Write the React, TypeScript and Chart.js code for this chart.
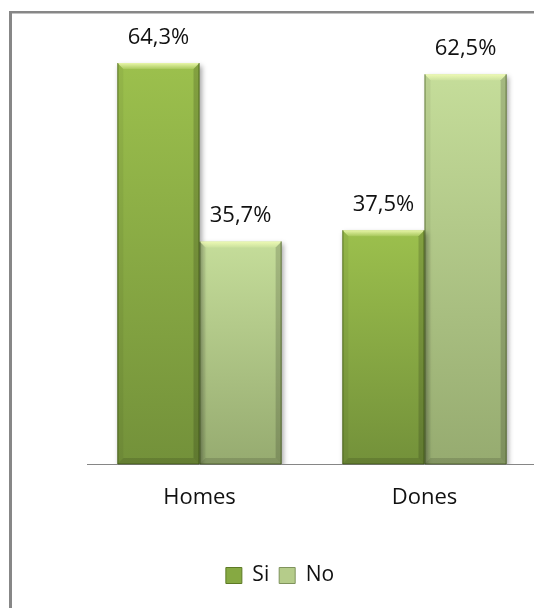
import React, { useEffect, useRef } from 'react';
import { Chart, registerables } from 'chart.js';

Chart.register(...registerables);

const categories = ['Homes', 'Dones'];
const seriesNames = ['Si', 'No'];
const siValues = [64.3, 37.5];
const noValues = [35.7, 62.5];
const yMin = 0;
const yMax = 70;

const W = 560;
const H = 608;
const FONT = "'Open Sans', 'DejaVu Sans', sans-serif";

const siTop = '#9cc04d';
const siBottom = '#73913a';
const noTop = '#c5dd9a';
const noBottom = '#96ab70';
const legendFill = ['#86a942', '#b5cc8a'];
const legendStroke = ['#5d7a25', '#7f935c'];

function fmt(v: number): string {
  return v.toFixed(1).replace('.', ',') + '%';
}

function vGrad(top: string, bottom: string) {
  return (ctx: any) => {
    const chart = ctx.chart;
    const ys = chart.scales && chart.scales.y;
    if (!chart.chartArea || !ys || typeof ctx.raw !== 'number') return top;
    const yTop = ys.getPixelForValue(ctx.raw);
    const yBase = ys.getPixelForValue(0);
    if (!isFinite(yTop) || !isFinite(yBase) || yTop === yBase) return top;
    const g = chart.ctx.createLinearGradient(0, yTop, 0, yBase);
    g.addColorStop(0, top);
    g.addColorStop(1, bottom);
    return g;
  };
}

const framePlugin = {
  id: 'frame',
  beforeDraw(chart: any) {
    const c = chart.ctx;
    c.save();
    c.fillStyle = '#ffffff';
    c.fillRect(0, 0, chart.width, chart.height);
    c.fillStyle = '#878787';
    c.fillRect(9, 11, chart.width, 2.5);
    c.fillRect(9, 11, 3, chart.height);
    c.restore();
  },
};

const shadowPlugin = {
  id: 'barShadowBevel',
  beforeDatasetsDraw(chart: any) {
    const c = chart.ctx;
    c.save();
    c.shadowColor = 'rgba(0,0,0,0.35)';
    c.shadowBlur = 5;
    c.shadowOffsetX = 2;
    c.shadowOffsetY = 3;
  },
  afterDatasetsDraw(chart: any) {
    const c = chart.ctx;
    c.restore();
    c.save();
    chart.data.datasets.forEach((ds: any, di: number) => {
      const meta = chart.getDatasetMeta(di);
      meta.data.forEach((el: any) => {
        const p = el.getProps(['x', 'y', 'base', 'width'], true);
        const l = p.x - p.width / 2;
        const r = p.x + p.width / 2;
        const t = Math.min(p.y, p.base);
        const b = Math.max(p.y, p.base);
        const bv = 6;
        const tg = c.createLinearGradient(0, t, 0, t + bv);
        tg.addColorStop(0, 'rgba(245,255,185,0.85)');
        tg.addColorStop(1, 'rgba(245,255,185,0.15)');
        c.fillStyle = tg;
        c.beginPath();
        c.moveTo(l, t);
        c.lineTo(r, t);
        c.lineTo(r - bv, t + bv);
        c.lineTo(l + bv, t + bv);
        c.closePath();
        c.fill();
        c.fillStyle = 'rgba(0,0,0,0.13)';
        c.beginPath();
        c.moveTo(l, b);
        c.lineTo(r, b);
        c.lineTo(r - bv, b - bv);
        c.lineTo(l + bv, b - bv);
        c.closePath();
        c.fill();
        c.fillStyle = 'rgba(0,0,0,0.05)';
        c.beginPath();
        c.moveTo(l, t);
        c.lineTo(l + bv, t + bv);
        c.lineTo(l + bv, b - bv);
        c.lineTo(l, b);
        c.closePath();
        c.fill();
        c.fillStyle = 'rgba(0,0,0,0.16)';
        c.beginPath();
        c.moveTo(r, t);
        c.lineTo(r - bv, t + bv);
        c.lineTo(r - bv, b - bv);
        c.lineTo(r, b);
        c.closePath();
        c.fill();
        c.strokeStyle = 'rgba(45,65,10,0.55)';
        c.lineWidth = 1;
        c.beginPath();
        c.moveTo(r - 0.5, t);
        c.lineTo(r - 0.5, b);
        c.lineTo(l + 0.5, b);
        c.lineTo(l + 0.5, t);
        c.stroke();
      });
    });
    c.fillStyle = '#111111';
    c.font = `22px ${FONT}`;
    c.textAlign = 'center';
    c.textBaseline = 'alphabetic';
    chart.data.datasets.forEach((ds: any, di: number) => {
      const meta = chart.getDatasetMeta(di);
      meta.data.forEach((el: any, i: number) => {
        const p = el.getProps(['x', 'y'], true);
        c.fillText(fmt(ds.data[i]), p.x, p.y - 19);
      });
    });
    c.restore();
  },
};

export default function App() {
  const ref = useRef<HTMLCanvasElement | null>(null);

  useEffect(() => {
    if (!ref.current) return;
    const chart = new Chart(ref.current, {
      type: 'bar',
      data: {
        labels: categories,
        datasets: [
          {
            label: seriesNames[0],
            data: siValues,
            backgroundColor: vGrad(siTop, siBottom),
            borderWidth: 0,
            categoryPercentage: 0.73,
            barPercentage: 1.0,
          },
          {
            label: seriesNames[1],
            data: noValues,
            backgroundColor: vGrad(noTop, noBottom),
            borderWidth: 0,
            categoryPercentage: 0.73,
            barPercentage: 1.0,
          },
        ],
      },
      options: {
        responsive: false,
        animation: false,
        devicePixelRatio: 1,
        layout: { padding: { top: 27.5, bottom: 12, left: 0, right: 0 } },
        plugins: {
          tooltip: { enabled: false },
          legend: {
            position: 'bottom',
            labels: {
              color: '#111111',
              font: { family: FONT, size: 21 },
              boxWidth: 16,
              boxHeight: 16,
              padding: 10,
              generateLabels: (ch: any) =>
                Chart.defaults.plugins.legend.labels.generateLabels(ch).map((l: any, i: number) => ({
                  ...l,
                  fillStyle: legendFill[i],
                  strokeStyle: legendStroke[i],
                  lineWidth: 1,
                })),
            },
          },
        },
        scales: {
          x: {
            grid: { display: true, drawOnChartArea: false, drawTicks: false },
            border: { display: true, color: '#868686', width: 1 },
            ticks: { color: '#111111', font: { family: FONT, size: 22 }, padding: 21 },
            afterFit: (s: any) => {
              const lh = s.chart.legend ? s.chart.legend.height : 0;
              s.height = H - 12 - lh - 464;
            },
          },
          y: {
            min: yMin,
            max: yMax,
            grid: { display: false },
            border: { display: false },
            ticks: { display: false },
            afterFit: (s: any) => {
              s.width = 87;
            },
          },
          y2: {
            position: 'right',
            min: yMin,
            max: yMax,
            grid: { display: false },
            border: { display: false },
            ticks: { display: false },
            afterFit: (s: any) => {
              s.width = 23;
            },
          },
        },
      },
      plugins: [framePlugin, shadowPlugin],
    } as any);
    return () => chart.destroy();
  }, []);

  return (
    <div style={{ position: 'absolute', left: 0, top: 0, width: 534, height: 608, overflow: 'hidden', background: '#fff' }}>
      <canvas ref={ref} width={W} height={H} style={{ width: W, height: H, display: 'block' }} />
    </div>
  );
}
